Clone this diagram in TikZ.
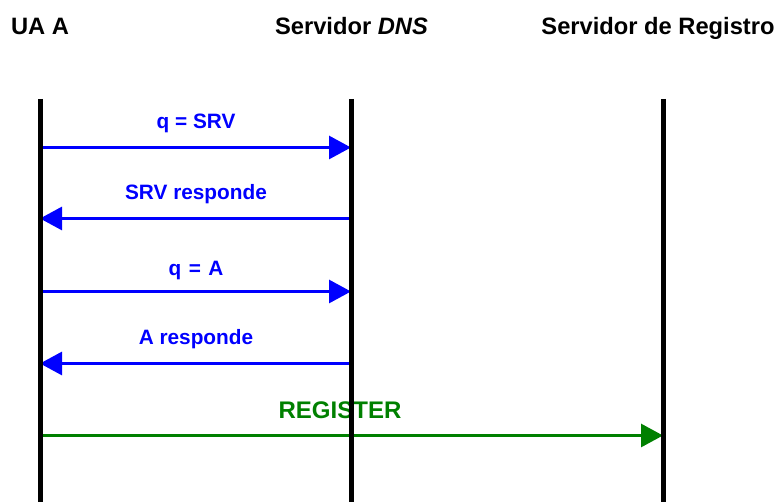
\documentclass[tikz,border=0pt]{standalone}
\usepackage{fontspec}
\setmainfont{Liberation Sans}
\usetikzlibrary{arrows.meta}
\definecolor{msgblue}{RGB}{0,0,255}
\definecolor{msggreen}{RGB}{0,128,0}
\begin{document}
\begin{tikzpicture}[x=1pt,y=-1pt,
  header/.style={font=\fontsize{23.7}{28}\selectfont\bfseries, inner sep=0pt, anchor=base},
  msglabel/.style={font=\fontsize{20.8}{25}\selectfont\bfseries, text=msgblue, inner sep=0pt, anchor=base},
  reglabel/.style={font=\fontsize{24}{28}\selectfont\bfseries, text=msggreen, inner sep=0pt, anchor=base},
  lifeline/.style={line width=5pt, black},
  msg/.style={line width=3pt, msgblue, -{Triangle[length=22pt,width=23pt]}},
  regmsg/.style={line width=3pt, msggreen, -{Triangle[length=22pt,width=23pt]}}
]
\useasboundingbox (0,0) rectangle (777,502);

% participants
\node[header] (ua)  at (40,34.5)    {UA A};
\node[header] (dns) at (351.5,34.5) {Servidor \textit{DNS}};
\node[header] (reg) at (658,34.5)   {Servidor de Registro};

% lifeline end points
\coordinate (ua-top)  at (40,99);   \coordinate (ua-bot)  at (40,502);
\coordinate (dns-top) at (351,99);  \coordinate (dns-bot) at (351,502);
\coordinate (reg-top) at (663,99);  \coordinate (reg-bot) at (663,502);

% message end points
\coordinate (m1a) at (40,147.5);  \coordinate (m1b) at (351,147.5);
\coordinate (m2a) at (351,218.5); \coordinate (m2b) at (40,218.5);
\coordinate (m3a) at (40,291.5);  \coordinate (m3b) at (351,291.5);
\coordinate (m4a) at (351,363.5); \coordinate (m4b) at (40,363.5);
\coordinate (m5a) at (40,435.5);  \coordinate (m5b) at (663,435.5);

% messages
\draw[msg] (m1a) -- (m1b);
\node[msglabel] (l1) at (196,129) {q = SRV};
\draw[msg] (m2a) -- (m2b);
\node[msglabel] (l2) at (196,200) {SRV responde};
\draw[msg] (m3a) -- (m3b);
\node[msglabel] (l3) at (196,276) {q\hspace{7.5pt}=\hspace{7.5pt}A};
\draw[msg] (m4a) -- (m4b);
\node[msglabel] (l4) at (196,345) {A responde};
\draw[regmsg] (m5a) -- (m5b);
\node[reglabel] (l5) at (340,419) {REGISTER};

% lifelines on top
\draw[lifeline] (ua-top) -- (ua-bot);
\draw[lifeline] (dns-top) -- (dns-bot);
\draw[lifeline] (reg-top) -- (reg-bot);
\end{tikzpicture}
\end{document}
